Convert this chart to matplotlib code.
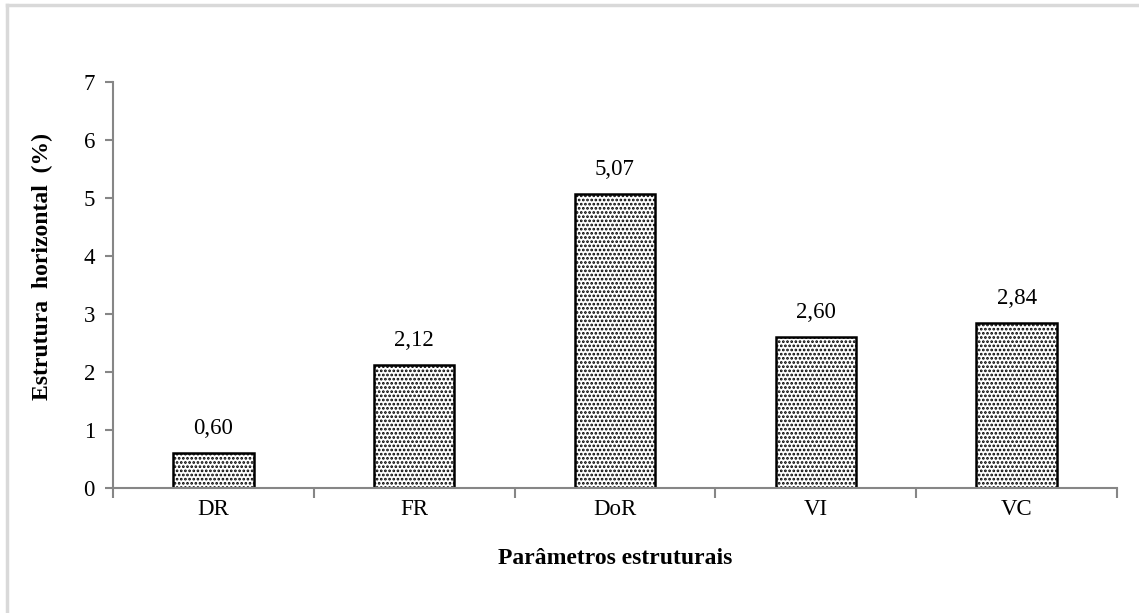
import matplotlib.pyplot as plt
import numpy as np

# dados
categorias = ['DR', 'FR', 'DoR', 'VI', 'VC']
valores = [0.60, 2.12, 5.07, 2.60, 2.84]
rotulos = ['0,60', '2,12', '5,07', '2,60', '2,84']

plt.rcParams['font.family'] = ['Liberation Serif', 'DejaVu Serif']
plt.rcParams['hatch.linewidth'] = 1.3

fig = plt.figure(figsize=(11.39, 6.13), dpi=100)
ax = fig.add_axes([113 / 1139, 1 - 488 / 613, 1004 / 1139, 406 / 613])

# borda cinza da figura (só topo e esquerda visíveis)
fig.add_artist(plt.Line2D([7 / 1139, 1], [1 - 5 / 613, 1 - 5 / 613],
                          transform=fig.transFigure, color='#d9d9d9', linewidth=2.5))
fig.add_artist(plt.Line2D([7 / 1139, 7 / 1139], [0, 1 - 5 / 613],
                          transform=fig.transFigure, color='#d9d9d9', linewidth=2.5))

x = np.arange(len(categorias))
barras = ax.bar(x, valores, width=0.4, color='white', edgecolor='black',
                linewidth=1.8, hatch='....')

for xi, v, r in zip(x, valores, rotulos):
    ax.annotate(r, (xi, v), xytext=(0, 10), textcoords='offset points',
                ha='center', va='bottom', fontsize=16.5)

ax.set_xlim(-0.5, 4.5)
ax.set_ylim(0, 7)
ax.set_yticks(range(0, 8))
ax.set_xticks(x)
ax.set_xticklabels(categorias)
ax.set_xticks(np.arange(-0.5, 5, 1), minor=True)
ax.tick_params(axis='x', which='major', length=0, labelsize=16.5, pad=8)
ax.tick_params(axis='x', which='minor', length=7, width=1.5, color='#868686')
ax.tick_params(axis='y', length=6, width=1.5, color='#868686', labelsize=16.5, pad=7)

for s in ['top', 'right']:
    ax.spines[s].set_visible(False)
for s in ['left', 'bottom']:
    ax.spines[s].set_color('#868686')
    ax.spines[s].set_linewidth(1.5)

ax.set_ylabel('Estrutura  horizontal  (%)', fontsize=17, fontweight='bold')
ax.yaxis.set_label_coords(-60 / 1004, 0.545)
ax.set_xlabel('Parâmetros estruturais', fontsize=17, fontweight='bold', labelpad=20)

fig.savefig('out.png', dpi=100)
